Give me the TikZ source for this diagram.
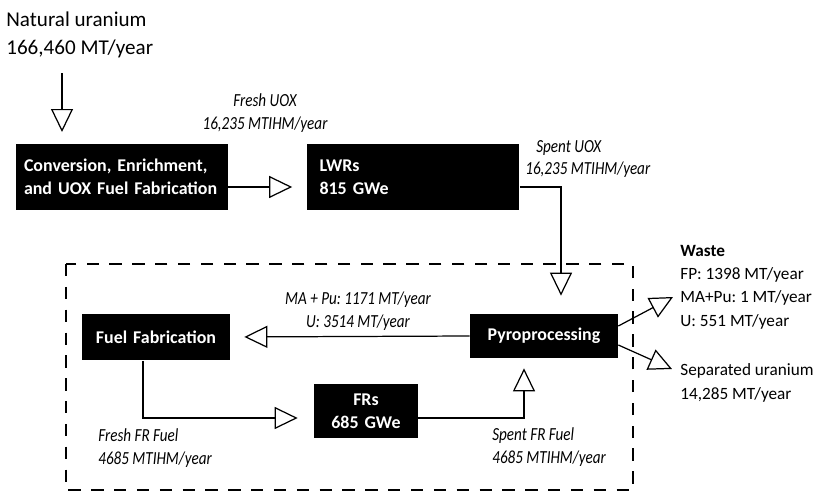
\documentclass[tikz,border=0pt]{standalone}
\usepackage{fontspec}
\setmainfont{Carlito}[ItalicFeatures={FakeStretch=0.82}]
\usepackage{tikz}
\usetikzlibrary{positioning, arrows.meta, calc}
\frenchspacing
\newcommand\boxfont{\fontsize{10.2}{13}\selectfont\bfseries}
\newcommand\lblfont{\fontsize{10.5}{12.8}\selectfont}
\newcommand\notefont{\fontsize{9.8}{13.2}\selectfont}
\tikzset{
  % black process box, white bold text
  unit/.style={fill=black, text=white, font=\boxfont,
               inner xsep=0pt, inner ysep=0pt, align=center},
  % material flow with open triangle head
  flow/.style={draw, line width=0.7pt,
               -{Triangle[open, length=0.46cm, width=0.44cm]}},
  % italic flow label
  flowlbl/.style={font=\lblfont\itshape, inner sep=0pt},
  % plain output note
  outnote/.style={font=\notefont, inner sep=0pt, align=left, anchor=west},
  % dashed boundary of the FR loop
  loopframe/.style={line width=0.6pt, dash pattern=on 7pt off 6pt},
}

\begin{document}
\begin{tikzpicture}[x=0.02cm, y=-0.02cm]
  \useasboundingbox (0,0) rectangle (814,496);

  % fuel cycle loop boundary
  \draw[loopframe] (66,264) rectangle (633,490);

  % process boxes
  \node[unit, align=left, inner xsep=0.16cm, text width=3.92cm,
        minimum height=1.32cm] (conv) at (122,177)
        {Conversion, Enrichment,\\and UOX Fuel Fabrication};
  \node[unit, align=left, inner xsep=0.26cm, text width=3.74cm,
        minimum height=1.34cm] (lwr) at (413,177) {LWRs\\815 GWe};
  \node[unit, text width=2.96cm, minimum height=0.94cm] (fuelfab)
        at (156,337) {Fuel Fabrication};
  \node[unit, text width=2.96cm, minimum height=0.88cm] (pyro)
        at (544,336) {Pyroprocessing};
  \node[unit, text width=2.08cm, minimum height=1.08cm] (frs)
        at (366,411) {FRs\\685 GWe};

  % feed and outputs
  \node[outnote, font=\fontsize{12}{16}\selectfont] (natu) at (6,35)
        {Natural uranium\\166,460 MT/year};
  \node[outnote, anchor=north west] (waste) at (680,245)
        {\textbf{Waste}\\FP: 1398 MT/year\\MA+Pu: 1 MT/year\\U: 551 MT/year};
  \node[outnote] (sepu) at (680,383) {Separated uranium\\14,285 MT/year};
  \coordinate (natuend) at (62,132);
  \coordinate (wasteend) at (673,297);
  \coordinate (sepuend) at (672,369);

  % flows
  \draw[flow, shorten <=0.3cm] (natu.south -| natuend) -- (natuend);
  \draw[flow, shorten >=0.28cm] ([yshift=-0.2cm]conv.east)
        -- ([yshift=-0.2cm]lwr.west);
  \draw[flow, shorten >=0.36cm] ([yshift=-0.2cm]lwr.east)
        -| ([xshift=0.34cm]pyro.north);
  \draw[flow, shorten >=0.28cm] (pyro.west) -- (fuelfab.east);
  \draw[flow, shorten >=0.32cm] ([xshift=-0.26cm]fuelfab.south)
        |- ([yshift=-0.14cm]frs.west);
  \draw[flow, shorten >=0.2cm] ([yshift=-0.14cm]frs.east)
        -| ([xshift=-0.4cm]pyro.south);
  \draw[flow] ([yshift=0.2cm]pyro.east) -- (wasteend);
  \draw[flow] ([yshift=-0.18cm]pyro.east) -- (sepuend);

  % flow labels
  \node[flowlbl, align=center] (freshuox) at (265,113)
        {Fresh UOX\\16,235 MTIHM/year};
  \node[flowlbl, align=left, anchor=west] (spentuox) at (525,159)
        {\hspace*{0.22cm}Spent UOX\\16,235 MTIHM/year};
  \node[flowlbl, align=center] (recycle) at (358,311)
        {MA + Pu: 1171 MT/year\\U: 3514 MT/year};
  \node[flowlbl, align=left, anchor=west] (freshfr) at (98,448)
        {Fresh FR Fuel\\4685 MTIHM/year};
  \node[flowlbl, align=left, anchor=west] (spentfr) at (492,447)
        {Spent FR Fuel\\4685 MTIHM/year};
\end{tikzpicture}
\end{document}
